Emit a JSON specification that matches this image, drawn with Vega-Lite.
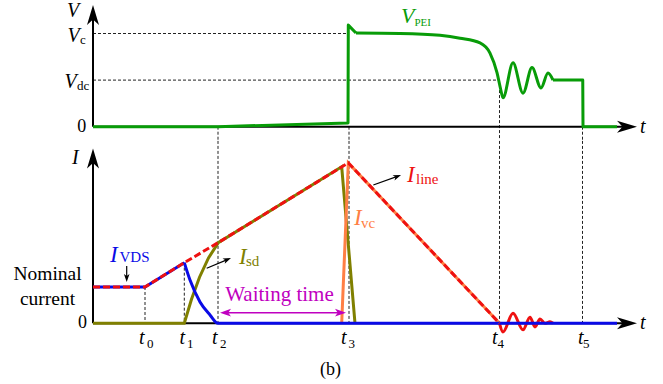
{
"$schema": "https://vega.github.io/schema/vega-lite/v6.json",
"padding": 0,
"spacing": 0,
"bounds": "flush",
"background": "white",
"config": {"view": {"stroke": null}, "text": {"font": "Liberation Serif"}},
"datasets": {
"top_line": [
{"t":0,"v":0,"seg":"a"},{"t":25,"v":0,"seg":"a"},{"t":51,"v":0.079,"seg":"a"},{"t":51.06,"v":2.18,"seg":"a"},{"t":52.6,"v":2.01,"seg":"a"},
{"t":52.6,"v":2.01,"seg":"b"},{"t":61.4,"v":2.0,"seg":"b"},{"t":69.4,"v":1.96,"seg":"b"},{"t":73.4,"v":1.9,"seg":"b"},{"t":77.4,"v":1.8,"seg":"b"},{"t":79.4,"v":1.58,"seg":"b"},{"t":80.8,"v":1.16,"seg":"b"},{"t":81.5,"v":0.82,"seg":"b"},{"t":82,"v":0.62,"seg":"b"},{"t":84,"v":1.37,"seg":"b"},{"t":86,"v":0.72,"seg":"b"},{"t":87.8,"v":1.27,"seg":"b"},{"t":89.6,"v":0.83,"seg":"b"},{"t":91,"v":1.15,"seg":"b"},{"t":92,"v":1.0,"seg":"b"},
{"t":92,"v":1.0,"seg":"c"},{"t":97.95,"v":1.0,"seg":"c"},{"t":98,"v":0,"seg":"c"},{"t":104.8,"v":0,"seg":"c"}
],
"top_seg": [
{"t":0,"t2":0,"v":0,"v2":2.333,"kind":"axis"},
{"t":0,"t2":106.4,"v":0,"v2":0,"kind":"axis"},
{"t":0,"t2":51.06,"v":2,"v2":2,"kind":"dash"},
{"t":0,"t2":81.3,"v":1,"v2":1,"kind":"dash"},
{"t":25,"t2":25,"v":0,"v2":-0.4,"kind":"dash"},
{"t":51.2,"t2":51.2,"v":0,"v2":-0.4,"kind":"dash"},
{"t":81.3,"t2":81.3,"v":1,"v2":-0.4,"kind":"dash"},
{"t":97.9,"t2":97.9,"v":0,"v2":-0.4,"kind":"dash"}
],
"top_head": [{"t":0,"v":2.397,"angle":0},{"t":106.8,"v":0,"angle":90}],
"top_text": [
{"t":-5.2,"v":2.354,"text":"V","role":"axv","series":"k"},
{"t":-5.1,"v":1.818,"text":"V","role":"axv","series":"k"},
{"t":-5.7,"v":0.83,"text":"V","role":"axv","series":"k"},
{"t":109.4,"v":-0.135,"text":"t","role":"axv","series":"k"},
{"t":61.6,"v":2.215,"text":"V","role":"serv","series":"V"},
{"t":-2.6,"v":1.775,"text":"c","role":"axs","series":"k"},
{"t":-3.2,"v":0.788,"text":"dc","role":"axs","series":"k"},
{"t":64.3,"v":2.161,"text":"PEI","role":"peis","series":"V"},
{"t":-2.26,"v":-0.107,"text":"0","role":"ctr","series":"k"}
],
"bot_line": [
{"t":0,"i":1,"s":"VDS"},{"t":10.4,"i":1,"s":"VDS"},{"t":18.26,"i":1.67,"s":"VDS"},
{"t":18.26,"i":1.67,"s":"drop"},{"t":19.4,"i":1.19,"s":"drop"},{"t":21.4,"i":0.59,"s":"drop"},{"t":23.4,"i":0.23,"s":"drop"},{"t":25,"i":0,"s":"drop"},{"t":104.8,"i":0,"s":"drop"},
{"t":0,"i":0,"s":"sd"},{"t":18.26,"i":0,"s":"sd"},{"t":19.7,"i":0.66,"s":"sd"},{"t":21.3,"i":1.27,"s":"sd"},{"t":23.1,"i":1.8,"s":"sd"},{"t":25.06,"i":2.22,"s":"sd"},{"t":49.74,"i":4.31,"s":"sd"},{"t":52.4,"i":0,"s":"sd"},
{"t":49.74,"i":0,"s":"vc"},{"t":51.06,"i":4.42,"s":"vc"},{"t":81.3,"i":0,"s":"vc"},
{"t":0,"i":1,"s":"line"},{"t":10.4,"i":1,"s":"line"},{"t":18.26,"i":1.67,"s":"line"},{"t":25,"i":2.22,"s":"line"},{"t":51.06,"i":4.42,"s":"line"},{"t":81.3,"i":0,"s":"line"},
{"t":81.3,"i":0,"s":"osc"},{"t":82,"i":-0.24,"s":"osc"},{"t":84,"i":0.28,"s":"osc"},{"t":86,"i":-0.18,"s":"osc"},{"t":87.4,"i":0.17,"s":"osc"},{"t":88.4,"i":-0.1,"s":"osc"},{"t":89.4,"i":0.12,"s":"osc"},{"t":90.4,"i":0,"s":"osc"},{"t":91.4,"i":0.04,"s":"osc"},{"t":92,"i":0,"s":"osc"}
],
"bot_seg": [
{"t":0,"t2":0,"i":0,"i2":4.444,"kind":"axis"},
{"t":0,"t2":106.4,"i":0,"i2":0,"kind":"axis"},
{"t":10.4,"t2":10.4,"i":1,"i2":0,"kind":"dash"},
{"t":18.26,"t2":18.26,"i":1.67,"i2":0,"kind":"dash"},
{"t":25,"t2":25,"i":5.3,"i2":0,"kind":"dash"},
{"t":51.2,"t2":51.2,"i":5.3,"i2":0,"kind":"dash"},
{"t":81.3,"t2":81.3,"i":5.3,"i2":0,"kind":"dash"},
{"t":97.9,"t2":97.9,"i":5.3,"i2":0,"kind":"dash"},
{"t":6.74,"t2":6.74,"i":1.579,"i2":1.248,"kind":"arrow"},
{"t":22.74,"t2":26.86,"i":1.515,"i2":1.755,"kind":"arrow"},
{"t":56.06,"t2":60.86,"i":3.81,"i2":4.047,"kind":"arrow"},
{"t":26.5,"t2":49.5,"i":0.292,"i2":0.292,"kind":"wait"}
],
"bot_head": [
{"t":0,"i":4.54,"angle":0,"kind":"axis"},
{"t":106.8,"i":0,"angle":90,"kind":"axis"},
{"t":6.74,"i":1.248,"angle":180,"kind":"arrow"},
{"t":26.86,"i":1.755,"angle":67,"kind":"arrow"},
{"t":60.86,"i":4.047,"angle":69.5,"kind":"arrow"},
{"t":26.5,"i":0.292,"angle":270,"kind":"wait"},
{"t":49.5,"i":0.292,"angle":90,"kind":"wait"}
],
"bot_text": [
{"t":-4.2,"i":4.402,"text":"I","role":"axv","series":"k"},
{"t":109.4,"i":-0.157,"text":"t","role":"axv","series":"k"},
{"t":9.2,"i":-0.57,"text":"t","role":"axv","series":"k"},
{"t":17.3,"i":-0.57,"text":"t","role":"axv","series":"k"},
{"t":23.8,"i":-0.57,"text":"t","role":"axv","series":"k"},
{"t":49.6,"i":-0.57,"text":"t","role":"axv","series":"k"},
{"t":79.8,"i":-0.57,"text":"t","role":"axv","series":"k"},
{"t":97.0,"i":-0.57,"text":"t","role":"axv","series":"k"},
{"t":3.4,"i":1.702,"text":"I","role":"serv","series":"VDS"},
{"t":29.2,"i":1.634,"text":"I","role":"serv","series":"sd"},
{"t":52.2,"i":2.708,"text":"I","role":"serv","series":"vc"},
{"t":62.8,"i":3.906,"text":"I","role":"serv","series":"line"},
{"t":10.8,"i":-0.68,"text":"0","role":"axs","series":"k"},
{"t":18.8,"i":-0.68,"text":"1","role":"axs","series":"k"},
{"t":25.4,"i":-0.68,"text":"2","role":"axs","series":"k"},
{"t":51.1,"i":-0.68,"text":"3","role":"axs","series":"k"},
{"t":80.9,"i":-0.68,"text":"4","role":"axs","series":"k"},
{"t":98.0,"i":-0.68,"text":"5","role":"axs","series":"k"},
{"t":5.3,"i":1.689,"text":"VDS","role":"sers","series":"VDS"},
{"t":30.6,"i":1.592,"text":"sd","role":"sers","series":"sd"},
{"t":53.6,"i":2.625,"text":"vc","role":"sers","series":"vc"},
{"t":64.6,"i":3.851,"text":"line","role":"sers","series":"line"},
{"t":-2.1,"i":-0.138,"text":"0","role":"ctr","series":"k"},
{"t":47.5,"i":-1.424,"text":"(b)","role":"ctr","series":"k"},
{"t":-9.1,"i":1.193,"text":"Nominal","role":"nom","series":"k"},
{"t":-9.1,"i":0.504,"text":"current","role":"nom","series":"k"},
{"t":37.3,"i":0.614,"text":"Waiting time","role":"wait","series":"wait"}
]
},
"vconcat": [
{
"width": 663, "height": 140,
"encoding": {
"x": {"field":"t","type":"quantitative","scale":{"domain":[-18.6,114],"nice":false,"zero":false},"axis":null},
"y": {"field":"v","type":"quantitative","scale":{"domain":[-0.2854,2.7189],"nice":false,"zero":false},"axis":null}
},
"layer": [
{"data":{"name":"top_seg"},"transform":[{"filter":"datum.kind==='dash'"}],"mark":{"type":"rule","color":"#222222","strokeWidth":1,"strokeDash":[3,2],"clip":true},"encoding":{"x2":{"field":"t2"},"y2":{"field":"v2"}}},
{"data":{"name":"top_seg"},"transform":[{"filter":"datum.kind==='axis'"}],"mark":{"type":"rule","color":"#000000","strokeWidth":2},"encoding":{"x2":{"field":"t2"},"y2":{"field":"v2"}}},
{"data":{"name":"top_head"},"mark":{"type":"point","shape":"M0,-1L0.6,1L0,0.45L-0.6,1Z","filled":true,"size":400,"color":"#000000","opacity":1,"strokeWidth":0},"encoding":{"angle":{"field":"angle","type":"quantitative","scale":null}}},
{"data":{"name":"top_line"},"transform":[{"filter":"datum.seg!=='b'"}],"mark":{"type":"line","color":"#089c08","strokeWidth":3,"strokeJoin":"round"},"encoding":{"detail":{"field":"seg"}}},
{"data":{"name":"top_line"},"transform":[{"filter":"datum.seg==='b'"}],"mark":{"type":"line","color":"#089c08","strokeWidth":3,"interpolate":"monotone"}},
{"data":{"name":"top_text"},"transform":[{"filter":"datum.role==='axv'"}],"mark":{"type":"text","font":"Liberation Serif","fontStyle":"italic","fontSize":20,"align":"left","baseline":"alphabetic"},"encoding":{"text":{"field":"text"},"color":{"field":"series","type":"nominal","scale":{"domain":["k","V","VDS","sd","vc","line","wait"],"range":["#000000","#089c08","#0a0ae6","#808000","#ff7f45","#ee1111","#c000c0"]},"legend":null}}},
{"data":{"name":"top_text"},"transform":[{"filter":"datum.role==='serv'"}],"mark":{"type":"text","font":"Liberation Serif","fontStyle":"italic","fontSize":22,"align":"left","baseline":"alphabetic"},"encoding":{"text":{"field":"text"},"color":{"field":"series","type":"nominal","scale":{"domain":["k","V","VDS","sd","vc","line","wait"],"range":["#000000","#089c08","#0a0ae6","#808000","#ff7f45","#ee1111","#c000c0"]},"legend":null}}},
{"data":{"name":"top_text"},"transform":[{"filter":"datum.role==='axs'"}],"mark":{"type":"text","font":"Liberation Serif","fontSize":13,"align":"left","baseline":"alphabetic"},"encoding":{"text":{"field":"text"},"color":{"field":"series","type":"nominal","scale":{"domain":["k","V","VDS","sd","vc","line","wait"],"range":["#000000","#089c08","#0a0ae6","#808000","#ff7f45","#ee1111","#c000c0"]},"legend":null}}},
{"data":{"name":"top_text"},"transform":[{"filter":"datum.role==='peis'"}],"mark":{"type":"text","font":"Liberation Serif","fontSize":11,"align":"left","baseline":"alphabetic"},"encoding":{"text":{"field":"text"},"color":{"field":"series","type":"nominal","scale":{"domain":["k","V","VDS","sd","vc","line","wait"],"range":["#000000","#089c08","#0a0ae6","#808000","#ff7f45","#ee1111","#c000c0"]},"legend":null}}},
{"data":{"name":"top_text"},"transform":[{"filter":"datum.role==='ctr'"}],"mark":{"type":"text","font":"Liberation Serif","fontSize":18,"align":"center","baseline":"alphabetic"},"encoding":{"text":{"field":"text"},"color":{"field":"series","type":"nominal","scale":{"domain":["k","V","VDS","sd","vc","line","wait"],"range":["#000000","#089c08","#0a0ae6","#808000","#ff7f45","#ee1111","#c000c0"]},"legend":null}}}
]
},
{
"width": 663, "height": 244,
"encoding": {
"x": {"field":"t","type":"quantitative","scale":{"domain":[-18.6,114],"nice":false,"zero":false},"axis":null},
"y": {"field":"i","type":"quantitative","scale":{"domain":[-1.6722,5.0496],"nice":false,"zero":false},"axis":null}
},
"layer": [
{"data":{"name":"bot_seg"},"transform":[{"filter":"datum.kind==='dash'"}],"mark":{"type":"rule","color":"#222222","strokeWidth":1,"strokeDash":[3,2],"clip":true},"encoding":{"x2":{"field":"t2"},"y2":{"field":"i2"}}},
{"data":{"name":"bot_seg"},"transform":[{"filter":"datum.kind==='axis'"}],"mark":{"type":"rule","color":"#000000","strokeWidth":2},"encoding":{"x2":{"field":"t2"},"y2":{"field":"i2"}}},
{"data":{"name":"bot_head"},"transform":[{"filter":"datum.kind==='axis'"}],"mark":{"type":"point","shape":"M0,-1L0.6,1L0,0.45L-0.6,1Z","filled":true,"size":400,"color":"#000000","opacity":1,"strokeWidth":0},"encoding":{"angle":{"field":"angle","type":"quantitative","scale":null}}},
{"data":{"name":"bot_line"},"transform":[{"filter":"datum.s==='sd'"}],"mark":{"type":"line","color":"#808000","strokeWidth":3}},
{"data":{"name":"bot_line"},"transform":[{"filter":"datum.s==='vc'"}],"mark":{"type":"line","color":"#ff7f45","strokeWidth":3}},
{"data":{"name":"bot_line"},"transform":[{"filter":"datum.s==='osc'"}],"mark":{"type":"line","color":"#ee1111","strokeWidth":3,"interpolate":"monotone"}},
{"data":{"name":"bot_line"},"transform":[{"filter":"datum.s==='VDS'"}],"mark":{"type":"line","color":"#0a0ae6","strokeWidth":3}},
{"data":{"name":"bot_line"},"transform":[{"filter":"datum.s==='drop'"}],"mark":{"type":"line","color":"#0a0ae6","strokeWidth":3,"interpolate":"monotone"}},
{"data":{"name":"bot_line"},"transform":[{"filter":"datum.s==='line'"}],"mark":{"type":"line","color":"#ee1111","strokeWidth":3,"strokeDash":[7,3]}},
{"data":{"name":"bot_seg"},"transform":[{"filter":"datum.kind==='arrow'"}],"mark":{"type":"rule","color":"#000000","strokeWidth":1.2},"encoding":{"x2":{"field":"t2"},"y2":{"field":"i2"}}},
{"data":{"name":"bot_seg"},"transform":[{"filter":"datum.kind==='wait'"}],"mark":{"type":"rule","color":"#c000c0","strokeWidth":1.5},"encoding":{"x2":{"field":"t2"},"y2":{"field":"i2"}}},
{"data":{"name":"bot_head"},"transform":[{"filter":"datum.kind==='arrow'"}],"mark":{"type":"point","shape":"M0,-1L0.7,1L0,0.5L-0.7,1Z","filled":true,"size":64,"color":"#000000","opacity":1,"strokeWidth":0},"encoding":{"angle":{"field":"angle","type":"quantitative","scale":null}}},
{"data":{"name":"bot_head"},"transform":[{"filter":"datum.kind==='wait'"}],"mark":{"type":"point","shape":"M0,-1L0.7,1L0,0.5L-0.7,1Z","filled":true,"size":121,"color":"#c000c0","opacity":1,"strokeWidth":0},"encoding":{"angle":{"field":"angle","type":"quantitative","scale":null}}},
{"data":{"name":"bot_text"},"transform":[{"filter":"datum.role==='axv'"}],"mark":{"type":"text","font":"Liberation Serif","fontStyle":"italic","fontSize":20,"align":"left","baseline":"alphabetic"},"encoding":{"text":{"field":"text"},"color":{"field":"series","type":"nominal","scale":{"domain":["k","V","VDS","sd","vc","line","wait"],"range":["#000000","#089c08","#0a0ae6","#808000","#ff7f45","#ee1111","#c000c0"]},"legend":null}}},
{"data":{"name":"bot_text"},"transform":[{"filter":"datum.role==='serv'"}],"mark":{"type":"text","font":"Liberation Serif","fontStyle":"italic","fontSize":23,"align":"left","baseline":"alphabetic"},"encoding":{"text":{"field":"text"},"color":{"field":"series","type":"nominal","scale":{"domain":["k","V","VDS","sd","vc","line","wait"],"range":["#000000","#089c08","#0a0ae6","#808000","#ff7f45","#ee1111","#c000c0"]},"legend":null}}},
{"data":{"name":"bot_text"},"transform":[{"filter":"datum.role==='axs'"}],"mark":{"type":"text","font":"Liberation Serif","fontSize":13,"align":"left","baseline":"alphabetic"},"encoding":{"text":{"field":"text"},"color":{"field":"series","type":"nominal","scale":{"domain":["k","V","VDS","sd","vc","line","wait"],"range":["#000000","#089c08","#0a0ae6","#808000","#ff7f45","#ee1111","#c000c0"]},"legend":null}}},
{"data":{"name":"bot_text"},"transform":[{"filter":"datum.role==='sers'"}],"mark":{"type":"text","font":"Liberation Serif","fontSize":15,"align":"left","baseline":"alphabetic"},"encoding":{"text":{"field":"text"},"color":{"field":"series","type":"nominal","scale":{"domain":["k","V","VDS","sd","vc","line","wait"],"range":["#000000","#089c08","#0a0ae6","#808000","#ff7f45","#ee1111","#c000c0"]},"legend":null}}},
{"data":{"name":"bot_text"},"transform":[{"filter":"datum.role==='ctr'"}],"mark":{"type":"text","font":"Liberation Serif","fontSize":18,"align":"center","baseline":"alphabetic"},"encoding":{"text":{"field":"text"},"color":{"field":"series","type":"nominal","scale":{"domain":["k","V","VDS","sd","vc","line","wait"],"range":["#000000","#089c08","#0a0ae6","#808000","#ff7f45","#ee1111","#c000c0"]},"legend":null}}},
{"data":{"name":"bot_text"},"transform":[{"filter":"datum.role==='nom'"}],"mark":{"type":"text","font":"Liberation Serif","fontSize":19.5,"align":"center","baseline":"alphabetic"},"encoding":{"text":{"field":"text"},"color":{"field":"series","type":"nominal","scale":{"domain":["k","V","VDS","sd","vc","line","wait"],"range":["#000000","#089c08","#0a0ae6","#808000","#ff7f45","#ee1111","#c000c0"]},"legend":null}}},
{"data":{"name":"bot_text"},"transform":[{"filter":"datum.role==='wait'"}],"mark":{"type":"text","font":"Liberation Serif","fontSize":21,"align":"center","baseline":"alphabetic"},"encoding":{"text":{"field":"text"},"color":{"field":"series","type":"nominal","scale":{"domain":["k","V","VDS","sd","vc","line","wait"],"range":["#000000","#089c08","#0a0ae6","#808000","#ff7f45","#ee1111","#c000c0"]},"legend":null}}}
]
}
]
}
